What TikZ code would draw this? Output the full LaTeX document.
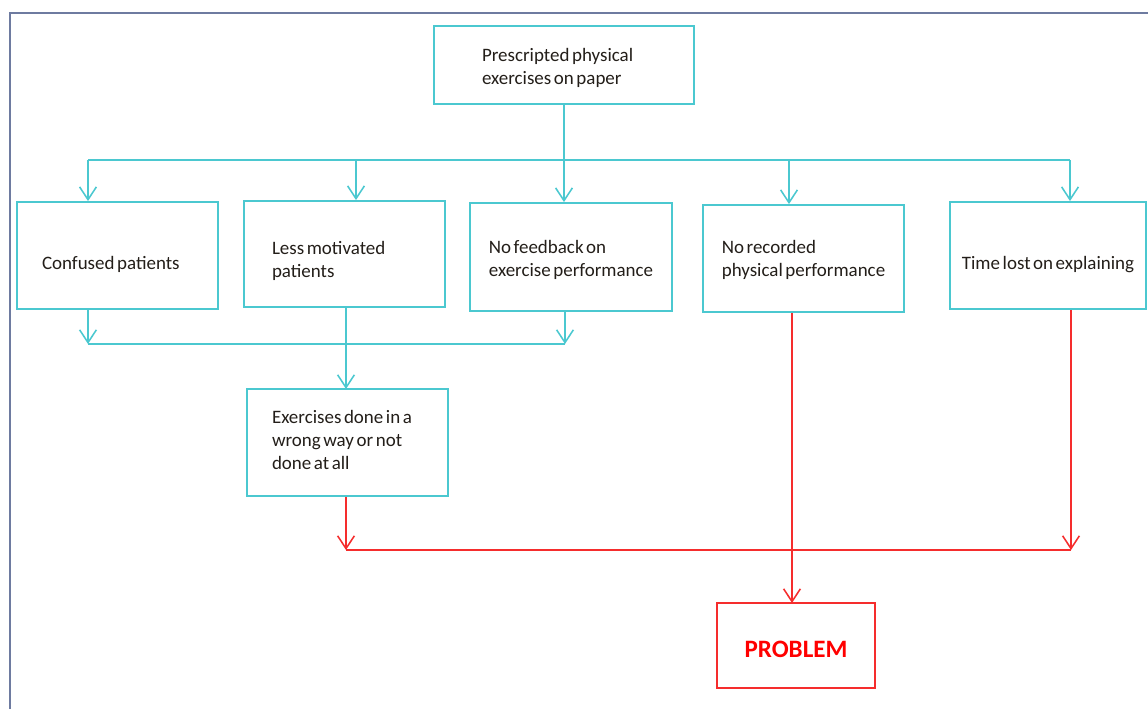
\documentclass[tikz,border=0pt]{standalone}
\usepackage{fontspec}
\setmainfont[WordSpace=0.6]{Carlito}
\usepackage{tikz}
\usetikzlibrary{positioning,arrows.meta}
\definecolor{aqua}{RGB}{75,200,208}
\definecolor{redline}{RGB}{245,45,45}
\definecolor{framecol}{RGB}{110,123,160}
\definecolor{txt}{RGB}{35,30,25}
\tikzstyle{box} = [draw=aqua, line width=1.3pt, align=left, text=txt, font=\fontsize{13.5pt}{16.4pt}\selectfont, execute at begin node={\spaceskip=0pt\xspaceskip=0pt}]
\tikzstyle{arrow} = [draw=aqua, line width=1.1pt, -{Straight Barb[length=0.32cm,width=0.42cm]}]
\tikzstyle{link} = [draw=aqua, line width=1.1pt]
\tikzstyle{redarrow} = [draw=redline, line width=1.1pt, -{Straight Barb[length=0.32cm,width=0.42cm]}]
\tikzstyle{redlink} = [draw=redline, line width=1.1pt]
\begin{document}
\begin{tikzpicture}
	\useasboundingbox (0,0) rectangle (28.7,-17.725);
	\draw[framecol, line width=1.4pt] (0.25,-17.725) -- (0.25,-0.325) -- (28.7,-0.325);
	\node (paper) [box, minimum width=6.5cm, minimum height=1.95cm, text width=4.1cm, inner xsep=1.2cm, text height=0pt, text depth=4.5pt] at (14.1,-1.625) {Prescripted physical\\exercises on paper};
	\node (confused) [box, minimum width=5.025cm, minimum height=2.675cm, text width=3.775cm, inner xsep=0.625cm, text height=20.5pt, text depth=0pt] at (2.9375,-6.3875) {Confused patients};
	\node (lessmot) [box, minimum width=5.025cm, minimum height=2.65cm, text width=3.625cm, inner xsep=0.7cm, text height=0pt, text depth=0pt] at (8.6125,-6.35) {Less motivated\\patients};
	\node (nofeed) [box, minimum width=5.05cm, minimum height=2.7cm, text height=28.4pt, text depth=0pt] at (14.275,-6.425) {No feedback on\\exercise performance};
	\node (norec) [box, minimum width=5.025cm, minimum height=2.675cm, text height=26.3pt, text depth=0pt] at (20.0875,-6.4625) {No recorded\\physical performance};
	\node (timelost) [box, minimum width=4.9cm, minimum height=2.675cm, text height=20.5pt, text depth=0pt] at (26.2,-6.3875) {Time lost on explaining};
	\node (wrong) [box, minimum width=5.025cm, minimum height=2.675cm, text width=3.775cm, inner xsep=0.625cm, text height=0pt, text depth=27pt] at (8.6875,-11.0625) {Exercises done in a\\wrong way or not\\done at all};
	\node (problem) [box, draw=redline, text=red, minimum width=3.95cm, minimum height=2.125cm, text height=17pt, text depth=0pt, font=\fontsize{17.8pt}{21pt}\selectfont\bfseries] at (19.9,-16.1375) {PROBLEM};
	\coordinate (b1) at (2.2,-4);
	\coordinate (b2) at (8.9,-4);
	\coordinate (b4) at (19.725,-4);
	\coordinate (b5) at (26.75,-4);
	\coordinate (j1) at (2.2,-8.6);
	\coordinate (j2) at (14.125,-8.6);
	\coordinate (m) at (8.65,-9.725);
	\coordinate (r1) at (8.65,-13.75);
	\coordinate (r2) at (26.775,-13.75);
	\coordinate (k) at (19.8,-15.075);
	\draw[link] (b1) -- (b5);
	\draw[arrow] (paper.south) -- (paper.south |- nofeed.north);
	\draw[arrow] (b1) -- (b1 |- confused.north);
	\draw[arrow] (b2) -- (b2 |- lessmot.north);
	\draw[arrow] (b4) -- (b4 |- norec.north);
	\draw[arrow] (b5) -- (b5 |- timelost.north);
	\draw[arrow] (confused.south -| j1) -- (j1);
	\draw[arrow] (nofeed.south -| j2) -- (j2);
	\draw[link] (j1) -- (j2);
	\draw[arrow] (lessmot.south -| m) -- (m);
	\draw[redarrow] (wrong.south -| r1) -- (r1);
	\draw[redarrow] (timelost.south -| r2) -- (r2);
	\draw[redlink] (r1) -- (r2);
	\draw[redarrow] (norec.south -| k) -- (k);
\end{tikzpicture}
\end{document}
